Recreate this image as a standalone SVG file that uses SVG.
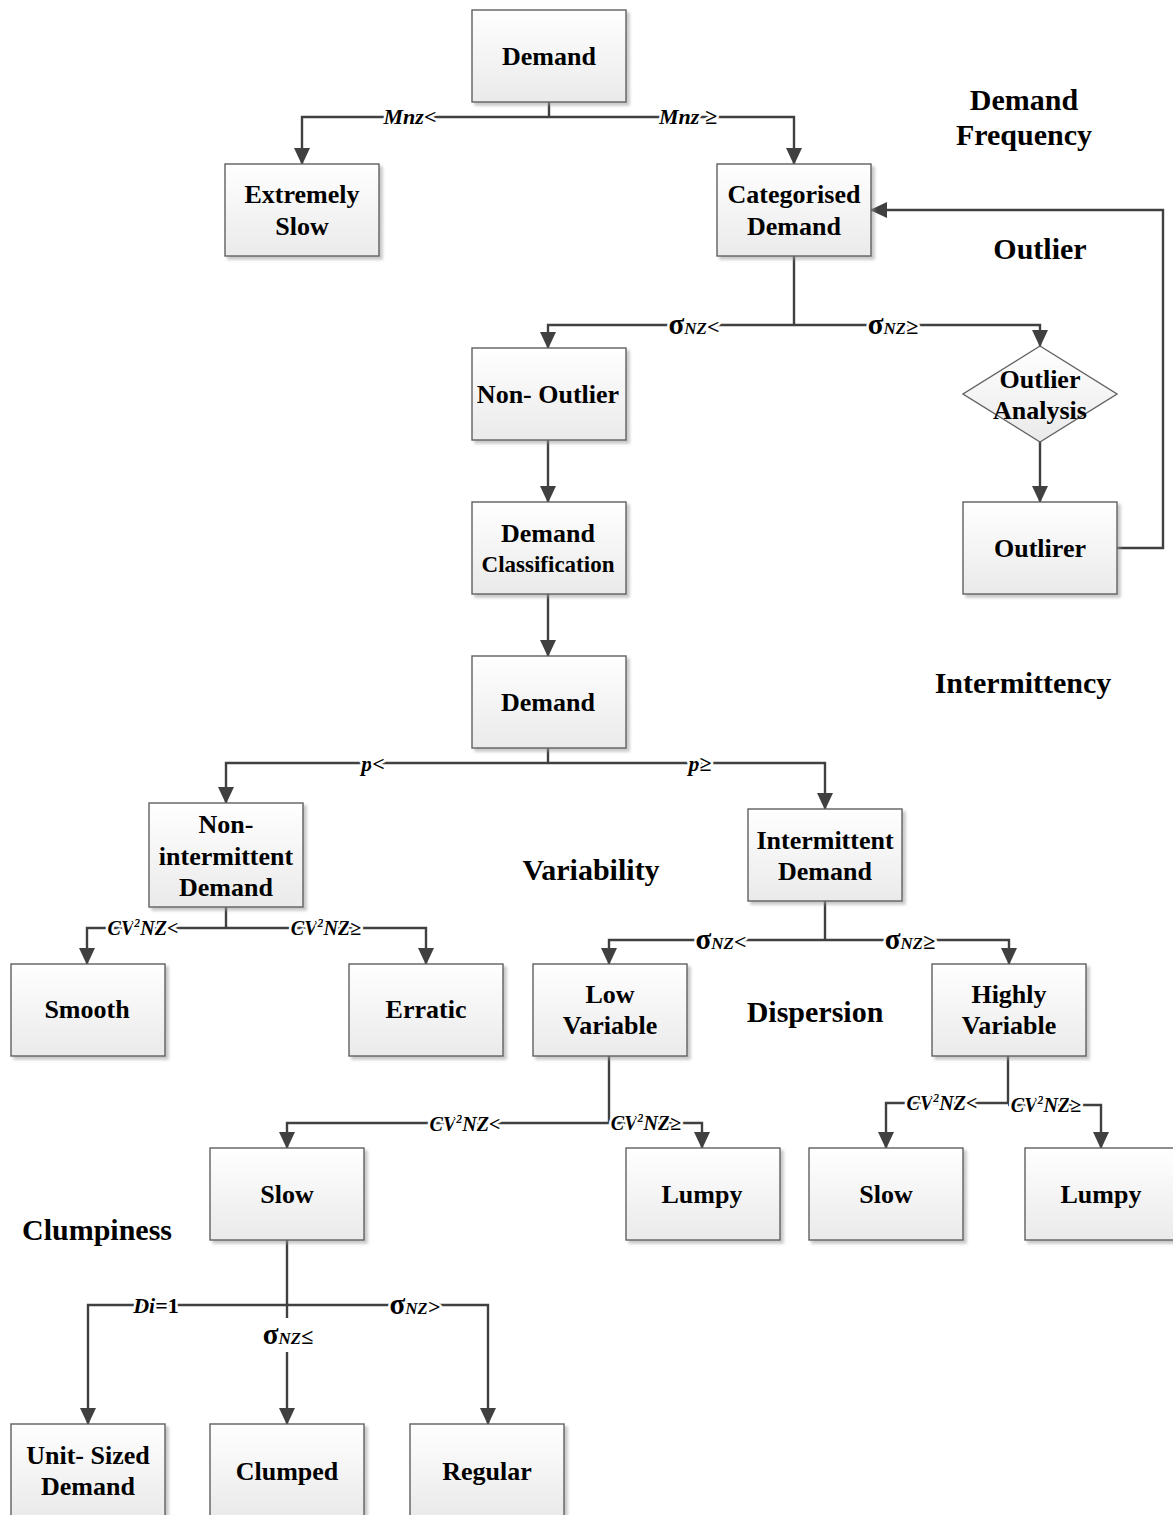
<svg xmlns="http://www.w3.org/2000/svg" width="1173" height="1515" viewBox="0 0 1173 1515">
<defs>
<linearGradient id="g" x1="0" y1="0" x2="0" y2="1">
<stop offset="0" stop-color="#ffffff"/>
<stop offset="1" stop-color="#eaeaea"/>
</linearGradient>
<filter id="sh" x="-10%" y="-10%" width="130%" height="130%">
<feDropShadow dx="3" dy="3" stdDeviation="1.5" flood-color="#999" flood-opacity="0.55"/>
</filter>
<marker id="ar" markerUnits="userSpaceOnUse" markerWidth="18" markerHeight="18" refX="16" refY="8" orient="auto">
<path d="M0,0 L17,8 L0,16 Z" fill="#404040"/>
</marker>
</defs>
<style>
.box{fill:url(#g);stroke:#606060;stroke-width:1.4;filter:url(#sh)}
.t{font-family:"Liberation Serif","Times New Roman",serif;font-weight:bold;font-size:26px;text-anchor:middle;fill:#000}
.sm{font-size:23px}
.h{font-family:"Liberation Serif","Times New Roman",serif;font-weight:bold;font-size:30px;text-anchor:middle;fill:#000}
.c{fill:none;stroke:#404040;stroke-width:2.4}
.a{marker-end:url(#ar)}
.l{font-family:"Liberation Serif","Times New Roman",serif;font-weight:bold;font-style:italic;font-size:22px;text-anchor:middle;fill:#000;stroke:#fff;stroke-width:5;paint-order:stroke;stroke-linejoin:round}
.cv{font-size:20px}
.sg{font-style:normal;font-size:29px}
.nz{font-size:17px}
.op{font-style:normal}
.sup{font-size:12px}
</style>

<g id="connectors">
<path class="c" d="M549,102 V117"/>
<path class="c a" d="M549,117 H302 V164"/>
<path class="c a" d="M549,117 H794 V164"/>
<path class="c" d="M794,256 V325"/>
<path class="c a" d="M794,325 H548 V348"/>
<path class="c a" d="M794,325 H1040 V346"/>
<path class="c a" d="M1040,442 V502"/>
<path class="c a" d="M1117,548 H1163 V210 H871"/>
<path class="c a" d="M548,440 V502"/>
<path class="c a" d="M548,594 V656"/>
<path class="c" d="M548,748 V763"/>
<path class="c a" d="M548,763 H226 V803"/>
<path class="c a" d="M548,763 H825 V809"/>
<path class="c" d="M226,907 V928"/>
<path class="c a" d="M226,928 H87 V964"/>
<path class="c a" d="M226,928 H426 V964"/>
<path class="c" d="M825,901 V940"/>
<path class="c a" d="M825,940 H609 V964"/>
<path class="c a" d="M825,940 H1009 V964"/>
<path class="c" d="M609,1056 V1123"/>
<path class="c a" d="M609,1123 H287 V1148"/>
<path class="c a" d="M609,1123 H702 V1148"/>
<path class="c" d="M1008,1056 V1104"/>
<path class="c a" d="M1008,1103 H886 V1148"/>
<path class="c a" d="M1008,1105 H1101 V1148"/>
<path class="c" d="M287,1240 V1318"/>
<path class="c a" d="M287,1305 H88 V1424"/>
<path class="c a" d="M287,1305 H488 V1424"/>
<path class="c a" d="M287,1352 V1424"/>
<text class="l" x="410" y="124">Mnz&lt;</text>
<text class="l" x="688" y="124">Mnz ≥</text>
<text class="l" x="694" y="334"><tspan class="sg">σ</tspan><tspan class="nz">NZ</tspan><tspan class="op">&lt;</tspan></text>
<text class="l" x="893" y="334"><tspan class="sg">σ</tspan><tspan class="nz">NZ</tspan><tspan class="op">≥</tspan></text>
<text class="l" x="373" y="771">p<tspan class="op">&lt;</tspan></text>
<text class="l" x="700" y="771">p<tspan class="op">≥</tspan></text>
<text class="l cv" x="143" y="935">CV<tspan class="sup" dy="-8">2</tspan><tspan dy="8">NZ</tspan><tspan class="op">&lt;</tspan></text>
<text class="l cv" x="326" y="935">CV<tspan class="sup" dy="-8">2</tspan><tspan dy="8">NZ</tspan><tspan class="op">≥</tspan></text>
<text class="l" x="721" y="949"><tspan class="sg">σ</tspan><tspan class="nz">NZ</tspan><tspan class="op">&lt;</tspan></text>
<text class="l" x="910" y="949"><tspan class="sg">σ</tspan><tspan class="nz">NZ</tspan><tspan class="op">≥</tspan></text>
<text class="l cv" x="465" y="1131">CV<tspan class="sup" dy="-8">2</tspan><tspan dy="8">NZ</tspan><tspan class="op">&lt;</tspan></text>
<text class="l cv" x="646" y="1130">CV<tspan class="sup" dy="-8">2</tspan><tspan dy="8">NZ</tspan><tspan class="op">≥</tspan></text>
<text class="l cv" x="942" y="1110">CV<tspan class="sup" dy="-8">2</tspan><tspan dy="8">NZ</tspan><tspan class="op">&lt;</tspan></text>
<text class="l cv" x="1046" y="1112">CV<tspan class="sup" dy="-8">2</tspan><tspan dy="8">NZ</tspan><tspan class="op">≥</tspan></text>
<text class="l" x="156" y="1313">Di<tspan class="op">=1</tspan></text>
<text class="l" x="415" y="1314"><tspan class="sg">σ</tspan><tspan class="nz">NZ</tspan><tspan class="op">&gt;</tspan></text>
<text class="l" x="288" y="1344"><tspan class="sg">σ</tspan><tspan class="nz">NZ</tspan><tspan class="op">≤</tspan></text>
</g>

<g id="n-demand"><rect class="box" x="472" y="10" width="154" height="92"/><text class="t" x="549" y="65">Demand</text></g>
<g id="n-extremely-slow"><rect class="box" x="225" y="164" width="154" height="92"/><text class="t" x="302" y="203">Extremely</text><text class="t" x="302" y="235">Slow</text></g>
<g id="n-categorised"><rect class="box" x="717" y="164" width="154" height="92"/><text class="t" x="794" y="203">Categorised</text><text class="t" x="794" y="235">Demand</text></g>
<g id="n-non-outlier"><rect class="box" x="472" y="348" width="154" height="92"/><text class="t" x="548" y="403">Non- Outlier</text></g>
<g id="n-outlier-analysis"><polygon points="1040,346 1117,394 1040,442 963,394" fill="url(#g)" stroke="#606060" stroke-width="1.4"/><text class="t" x="1040" y="388">Outlier</text><text class="t" x="1040" y="419">Analysis</text></g>
<g id="n-outlirer"><rect class="box" x="963" y="502" width="154" height="92"/><text class="t" x="1040" y="557">Outlirer</text></g>
<g id="n-demand-classification"><rect class="box" x="472" y="502" width="154" height="92"/><text class="t" x="548" y="542">Demand</text><text class="t sm" x="548" y="572">Classification</text></g>
<g id="n-demand2"><rect class="box" x="472" y="656" width="154" height="92"/><text class="t" x="548" y="711">Demand</text></g>
<g id="n-non-intermittent"><rect class="box" x="149" y="803" width="154" height="104"/><text class="t" x="226" y="833">Non-</text><text class="t" x="226" y="865">intermittent</text><text class="t" x="226" y="896">Demand</text></g>
<g id="n-intermittent"><rect class="box" x="748" y="809" width="154" height="92"/><text class="t" x="825" y="849">Intermittent</text><text class="t" x="825" y="880">Demand</text></g>
<g id="n-smooth"><rect class="box" x="11" y="964" width="154" height="92"/><text class="t" x="87" y="1018">Smooth</text></g>
<g id="n-erratic"><rect class="box" x="349" y="964" width="154" height="92"/><text class="t" x="426" y="1018">Erratic</text></g>
<g id="n-low-variable"><rect class="box" x="533" y="964" width="154" height="92"/><text class="t" x="610" y="1003">Low</text><text class="t" x="610" y="1034">Variable</text></g>
<g id="n-highly-variable"><rect class="box" x="932" y="964" width="154" height="92"/><text class="t" x="1009" y="1003">Highly</text><text class="t" x="1009" y="1034">Variable</text></g>
<g id="n-slow1"><rect class="box" x="210" y="1148" width="154" height="92"/><text class="t" x="287" y="1203">Slow</text></g>
<g id="n-lumpy1"><rect class="box" x="626" y="1148" width="154" height="92"/><text class="t" x="702" y="1203">Lumpy</text></g>
<g id="n-slow2"><rect class="box" x="809" y="1148" width="154" height="92"/><text class="t" x="886" y="1203">Slow</text></g>
<g id="n-lumpy2"><rect class="box" x="1025" y="1148" width="154" height="92"/><text class="t" x="1101" y="1203">Lumpy</text></g>
<g id="n-unit-sized"><rect class="box" x="11" y="1424" width="154" height="92"/><text class="t" x="88" y="1464">Unit- Sized</text><text class="t" x="88" y="1495">Demand</text></g>
<g id="n-clumped"><rect class="box" x="210" y="1424" width="154" height="92"/><text class="t" x="287" y="1480">Clumped</text></g>
<g id="n-regular"><rect class="box" x="410" y="1424" width="154" height="92"/><text class="t" x="487" y="1480">Regular</text></g>

<g id="headings">
<text class="h" x="1024" y="110">Demand</text>
<text class="h" x="1024" y="145">Frequency</text>
<text class="h" x="1040" y="259">Outlier</text>
<text class="h" x="1023" y="693">Intermittency</text>
<text class="h" x="591" y="880">Variability</text>
<text class="h" x="815" y="1022">Dispersion</text>
<text class="h" x="97" y="1240">Clumpiness</text>
</g>
</svg>
